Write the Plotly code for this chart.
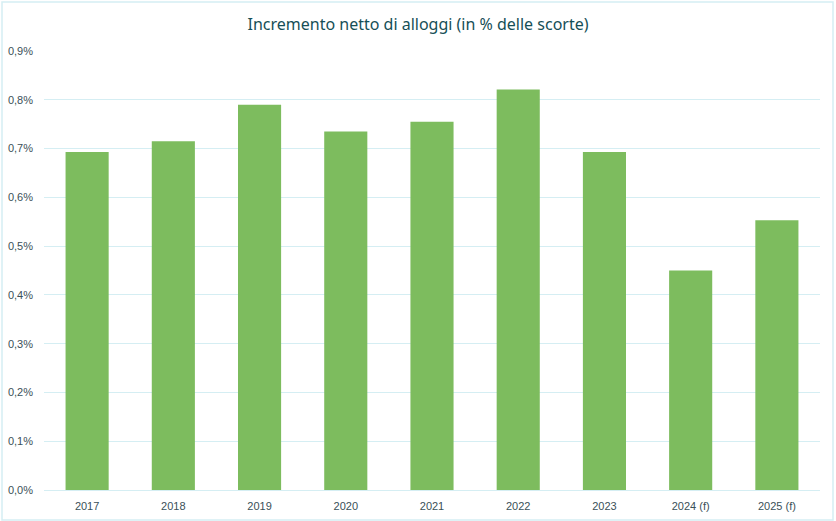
import plotly.graph_objects as go

categories = ["2017", "2018", "2019", "2020", "2021", "2022", "2023", "2024 (f)", "2025 (f)"]
values = [0.693, 0.715, 0.790, 0.735, 0.755, 0.821, 0.693, 0.450, 0.553]
tick_vals = [0.0, 0.1, 0.2, 0.3, 0.4, 0.5, 0.6, 0.7, 0.8, 0.9]
tick_text = ["0,0%", "0,1%", "0,2%", "0,3%", "0,4%", "0,5%", "0,6%", "0,7%", "0,8%", "0,9%"]

W, H = 836, 521
ml, mr, mt, mb = 44, 16, 51, 31
pw, ph = W - ml - mr, H - mt - mb

fig = go.Figure(go.Bar(
    x=categories, y=values,
    marker=dict(color="#7DBC5E", line=dict(width=0)),
    hoverinfo="x+y",
))

fig.update_layout(
    width=W, height=H,
    margin=dict(l=ml, r=mr, t=mt, b=mb),
    paper_bgcolor="white", plot_bgcolor="white",
    bargap=0.5,
    showlegend=False,
    title=dict(
        text="Incremento netto di alloggi (in % delle scorte)",
        x=0.5, xanchor="center", y=1 - 24 / H, yanchor="middle",
        font=dict(family="Noto Sans, Open Sans, sans-serif", size=16, color="#164F57"),
    ),
    xaxis=dict(
        showgrid=False, showline=False, ticks="", ticklabelstandoff=8, automargin=False,
        tickfont=dict(family="Liberation Sans, Arial, sans-serif", size=11, color="#3A5058"),
    ),
    yaxis=dict(
        range=[0, 0.9], tickvals=tick_vals, ticktext=tick_text, automargin=False,
        showgrid=True, gridcolor="#D5EEF3", gridwidth=1,
        zeroline=True, zerolinecolor="#D5EEF3", zerolinewidth=1,
        showline=False, ticks="", ticklabelstandoff=10,
        tickfont=dict(family="Liberation Sans, Arial, sans-serif", size=11, color="#3A5058"),
    ),
    shapes=[dict(
        type="rect", xref="paper", yref="paper",
        x0=(2 - ml) / pw, x1=(833 - ml) / pw,
        y0=-(mb - 1) / ph, y1=1 + (mt - 2) / ph,
        line=dict(color="#D5EEF3", width=1.5), fillcolor="rgba(0,0,0,0)", layer="below",
    )],
)

fig.write_html(
    "out.html",
    config={"displayModeBar": False},
    post_script="document.body.style.margin='0';document.body.style.padding='0';",
)
